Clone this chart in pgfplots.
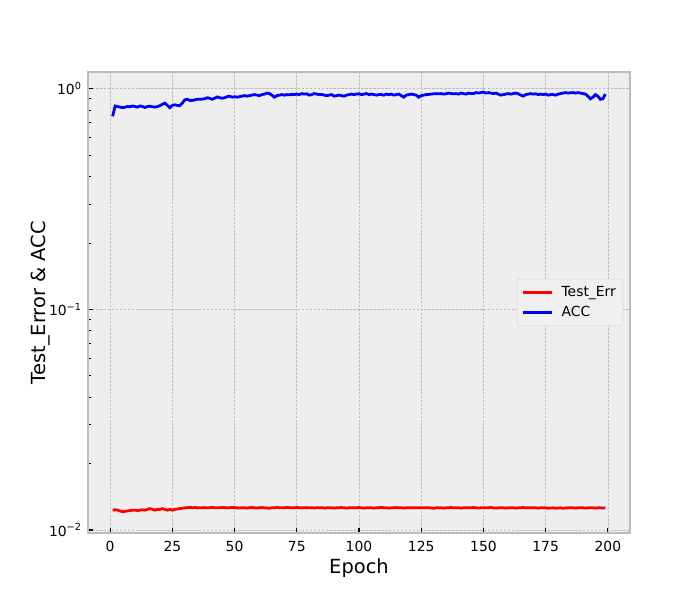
\documentclass[border=0pt]{standalone}
\usepackage{fontspec}
\setmainfont{DejaVu Sans}
\usepackage{pgfplots}
\usepackage{pgfplotstable}
\pgfplotsset{compat=1.18}
\definecolor{bgc}{HTML}{EEEEEE}
\definecolor{edgec}{HTML}{BCBCBC}
\definecolor{gridc}{HTML}{BDBDBD}
\definecolor{legc}{HTML}{D4D4D4}
\definecolor{legfill}{HTML}{F0F0F0}
\pgfplotstableread{
epoch acc err
1 0.75 0.0123
2 0.835 0.01235
3 0.83 0.0123
4 0.825 0.0122
5 0.82 0.0121
6 0.825 0.01215
7 0.83 0.0122
8 0.828 0.01225
9 0.835 0.0123
10 0.83 0.0123
11 0.825 0.01225
12 0.835 0.0123
13 0.83 0.01235
14 0.822 0.0123
15 0.83 0.0124
16 0.833 0.0125
17 0.828 0.0124
18 0.825 0.0123
19 0.83 0.0124
20 0.838 0.0124
21 0.85 0.0125
22 0.86 0.0124
23 0.84 0.0123
24 0.82 0.0124
25 0.84 0.0123
26 0.845 0.0124
27 0.84 0.01245
28 0.838 0.0125
29 0.86 0.01255
30 0.89 0.0126
31 0.895 0.01262
32 0.885 0.01265
33 0.885 0.01262
34 0.89 0.01264
35 0.895 0.01262
36 0.895 0.0126
37 0.897 0.01262
38 0.9 0.01263
39 0.91 0.0126
40 0.905 0.01262
41 0.895 0.01265
42 0.905 0.01262
43 0.918 0.0126
44 0.91 0.01262
45 0.905 0.01264
46 0.91 0.01263
47 0.92 0.0126
48 0.925 0.01262
49 0.915 0.01265
50 0.92 0.01263
51 0.915 0.0126
52 0.92 0.01258
53 0.925 0.01262
54 0.93 0.0126
55 0.925 0.01258
56 0.93 0.01262
57 0.935 0.01265
58 0.94 0.0126
59 0.935 0.01258
60 0.93 0.01262
61 0.94 0.01264
62 0.945 0.0126
63 0.955 0.01258
64 0.95 0.01255
65 0.935 0.0126
66 0.915 0.01262
67 0.93 0.01264
68 0.935 0.01262
69 0.94 0.0126
70 0.935 0.01262
71 0.94 0.01265
72 0.938 0.01263
73 0.942 0.0126
74 0.94 0.01262
75 0.945 0.01264
76 0.94 0.01262
77 0.95 0.0126
78 0.945 0.01262
79 0.948 0.01263
80 0.935 0.0126
81 0.94 0.01262
82 0.95 0.01258
83 0.945 0.01262
84 0.94 0.0126
85 0.942 0.01262
86 0.935 0.01258
87 0.93 0.0126
88 0.935 0.01262
89 0.94 0.0126
90 0.925 0.01258
91 0.93 0.0126
92 0.935 0.01262
93 0.93 0.01264
94 0.925 0.0126
95 0.935 0.01258
96 0.94 0.0126
97 0.945 0.01262
98 0.94 0.0126
99 0.945 0.01262
100 0.948 0.01264
101 0.94 0.0126
102 0.945 0.01258
103 0.95 0.0126
104 0.94 0.01262
105 0.945 0.0126
106 0.94 0.01258
107 0.935 0.0126
108 0.94 0.01262
109 0.94 0.01265
110 0.935 0.01262
111 0.945 0.0126
112 0.94 0.01258
113 0.945 0.0126
114 0.935 0.01262
115 0.94 0.01264
116 0.945 0.0126
117 0.93 0.01262
118 0.915 0.01258
119 0.935 0.0126
120 0.94 0.01262
121 0.945 0.0126
122 0.94 0.01262
123 0.935 0.0126
124 0.915 0.01262
125 0.93 0.0126
126 0.935 0.01262
127 0.94 0.0126
128 0.942 0.01262
129 0.945 0.01258
130 0.948 0.01255
131 0.95 0.0126
132 0.948 0.01262
133 0.95 0.0126
134 0.945 0.01258
135 0.948 0.0126
136 0.955 0.01262
137 0.95 0.01264
138 0.948 0.0126
139 0.95 0.01262
140 0.945 0.0126
141 0.955 0.01258
142 0.95 0.0126
143 0.945 0.01262
144 0.955 0.0126
145 0.95 0.01262
146 0.95 0.01264
147 0.96 0.0126
148 0.955 0.01258
149 0.96 0.0126
150 0.965 0.01262
151 0.955 0.0126
152 0.96 0.01262
153 0.955 0.01264
154 0.95 0.0126
155 0.955 0.01258
156 0.945 0.0126
157 0.935 0.01262
158 0.94 0.0126
159 0.945 0.01258
160 0.95 0.0126
161 0.945 0.01262
162 0.95 0.0126
163 0.955 0.01258
164 0.948 0.0126
165 0.935 0.01262
166 0.925 0.01264
167 0.94 0.0126
168 0.945 0.01262
169 0.95 0.0126
170 0.945 0.01262
171 0.948 0.0126
172 0.94 0.01258
173 0.945 0.0126
174 0.94 0.01262
175 0.945 0.0126
176 0.935 0.01255
177 0.94 0.01258
178 0.94 0.0126
179 0.935 0.01255
180 0.945 0.01258
181 0.95 0.0126
182 0.955 0.01255
183 0.96 0.01258
184 0.955 0.0126
185 0.958 0.01262
186 0.96 0.0126
187 0.955 0.01258
188 0.96 0.0126
189 0.955 0.01262
190 0.95 0.0126
191 0.945 0.01258
192 0.925 0.0126
193 0.9 0.01262
194 0.915 0.0126
195 0.94 0.01258
196 0.925 0.0126
197 0.895 0.0126
198 0.9 0.01258
199 0.945 0.0126
}\datatable
\begin{document}
\begin{tikzpicture}
\useasboundingbox (0,0) rectangle (504pt,432pt);
\begin{axis}[
  at={(63.36pt,48.24pt)}, anchor=south west,
  scale only axis, width=390.24pt, height=331.92pt,
  ymode=log,
  xmin=-8.9, xmax=208.9, ymin=0.00969, ymax=1.19,
  axis background/.style={fill=bgc},
  axis line style={draw=edgec, line width=0.8pt},
  grid=major,
  major grid style={dash pattern=on 1.9pt off 0.95pt, draw=gridc, line width=0.5pt},
  xtick={0,25,...,200},
  ytick={0.01,0.1,1},
  yticklabels={10\textsuperscript{−2},10\textsuperscript{−1},10\textsuperscript{0}},
  minor ytick={0.02,0.03,0.04,0.05,0.06,0.07,0.08,0.09,0.2,0.3,0.4,0.5,0.6,0.7,0.8,0.9},
  tick align=inside, tick pos=left,
  major tick length=3.5pt, minor tick length=2pt,
  every tick/.style={black, line width=0.8pt},
  minor tick style={black, line width=0.6pt},
  ticklabel style={font=\fontsize{10}{12}\selectfont},
  xticklabel style={yshift=-2.5pt},
  yticklabel style={xshift=-1pt},
  /pgf/number format/assume math mode=true,
  xlabel={Epoch}, ylabel={Test\_Error \& ACC},
  label style={font=\fontsize{14}{17}\selectfont},
  xlabel style={yshift=2pt},
  ylabel style={yshift=-7.5pt},
  legend style={at={(1,0.5)}, anchor=east, xshift=-5pt,
    draw=legc, fill=legfill, rounded corners=2pt,
    font=\fontsize{10}{12}\selectfont, row sep=2pt, inner sep=3pt},
  legend cell align=left,
  legend image code/.code={\draw[#1, line width=2pt] (0pt,0pt) -- (21pt,0pt); \path (25pt,0pt);},
]
\addplot[red, line width=2pt, no marks] table[x=epoch, y=err] {\datatable};
\addlegendentry{Test\_Err}
\addplot[blue, line width=2pt, no marks] table[x=epoch, y=acc] {\datatable};
\addlegendentry{ACC}
\end{axis}
\end{tikzpicture}
\end{document}
